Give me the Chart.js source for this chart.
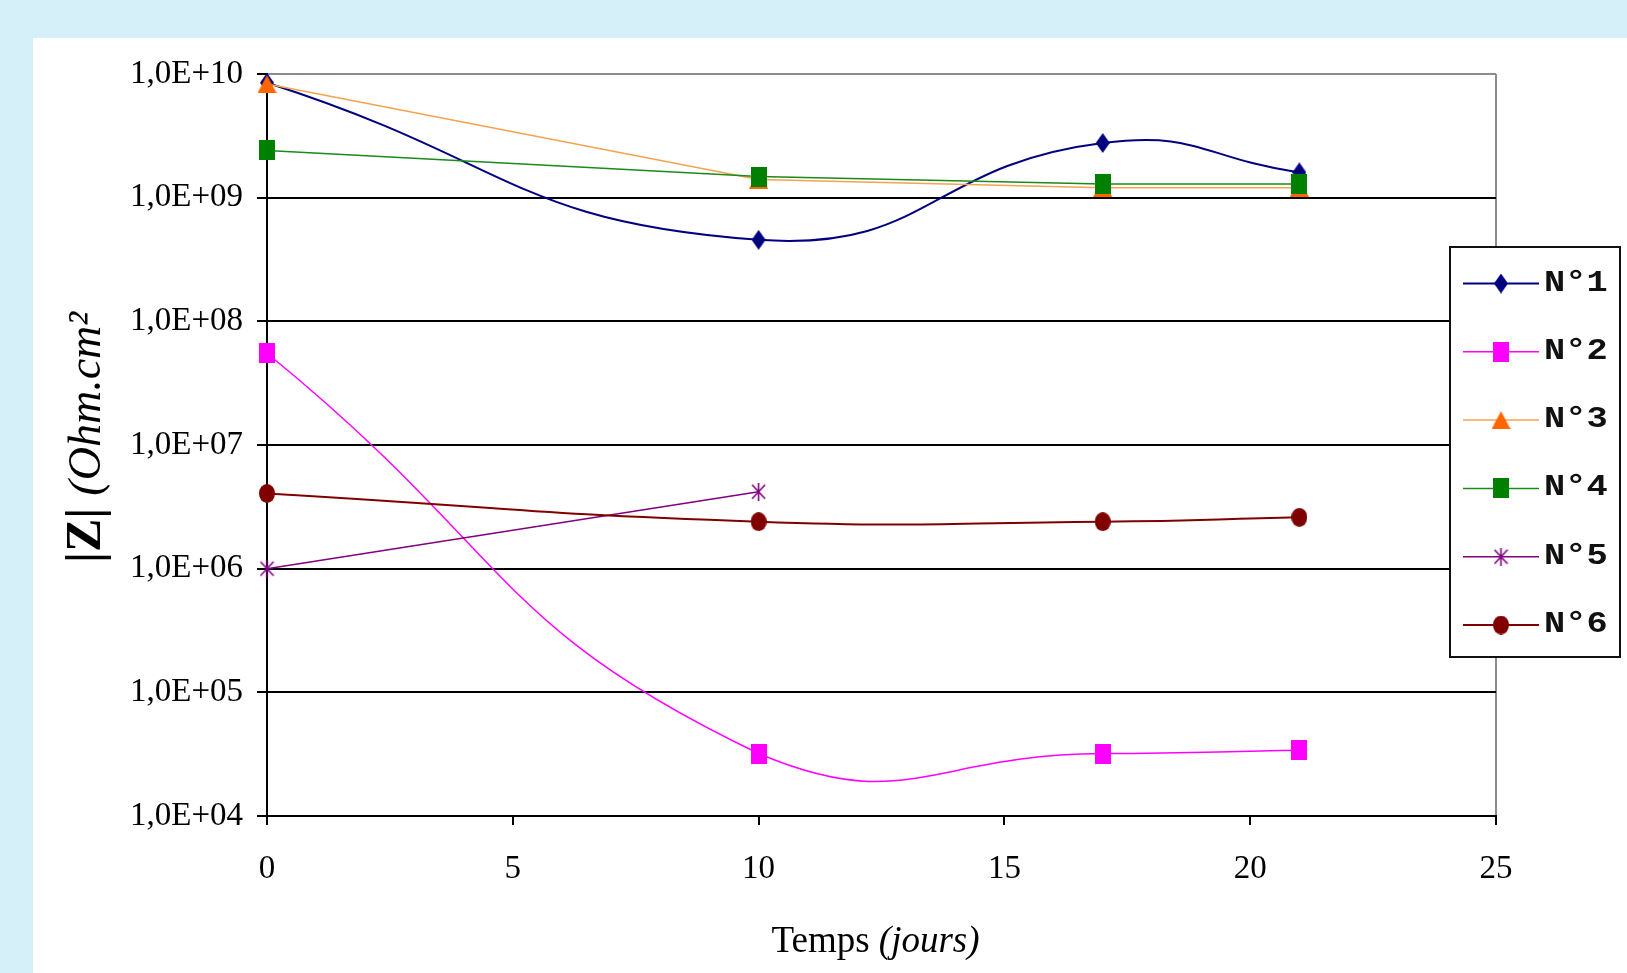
<!DOCTYPE html>
<html>
<head>
<meta charset="utf-8">
<script src="https://cdn.jsdelivr.net/npm/chart.js@4.4.0/dist/chart.umd.min.js"></script>
<style>
  html, body { margin: 0; padding: 0; }
  body { width: 1627px; height: 973px; background: #d6f0f9; position: relative; overflow: hidden; }
  #panel { position: absolute; left: 33px; top: 38px; right: 0; bottom: 0; background: #fff; }
  #chart { position: absolute; left: 0; top: 0; }
</style>
</head>
<body>
<div id="panel"></div>
<canvas id="chart" width="1627" height="973"></canvas>
<script>
// measurement days
const days = [0, 10, 17, 21];
const seriesLabels = ['N°1', 'N°2', 'N°3', 'N°4', 'N°5', 'N°6'];

// |Z| values (Ohm.cm²) per sample
const n1 = [8.5e9, 4.56e8, 2.77e9, 1.6e9];
const n2 = [5.52e7, 3.2e4, 3.2e4, 3.4e4];
const n3 = [8.3e9, 1.4e9, 1.2e9, 1.2e9];
const n4 = [2.41e9, 1.48e9, 1.29e9, 1.29e9];
const n5 = [1.0e6, 4.19e6];
const n6 = [4.06e6, 2.4e6, 2.4e6, 2.6e6];

// axis ticks
const yTicks = [1e4, 1e5, 1e6, 1e7, 1e8, 1e9, 1e10];
const xTicks = [0, 5, 10, 15, 20, 25];

const serif = '"Liberation Serif", "Times New Roman", serif';

// marker images, drawn once and reused for the plot and the legend
function makeMarker(shape, w, h, color) {
  const c = document.createElement('canvas');
  c.width = w;
  c.height = h;
  const g = c.getContext('2d');
  g.fillStyle = color;
  g.strokeStyle = color;
  g.beginPath();
  if (shape === 'diamond') {
    g.moveTo(w / 2, 0); g.lineTo(w, h / 2); g.lineTo(w / 2, h); g.lineTo(0, h / 2);
    g.closePath(); g.fill();
  } else if (shape === 'square') {
    g.fillRect(0, 0, w, h);
  } else if (shape === 'triangle') {
    g.moveTo(w / 2, 0); g.lineTo(w, h); g.lineTo(0, h);
    g.closePath(); g.fill();
  } else if (shape === 'circle') {
    g.ellipse(w / 2, h / 2, w / 2, h / 2, 0, 0, Math.PI * 2);
    g.fill();
  } else if (shape === 'asterisk') {
    g.lineWidth = 1.6;
    g.moveTo(w / 2, 0); g.lineTo(w / 2, h);
    g.moveTo(1, 2); g.lineTo(w - 1, h - 2);
    g.moveTo(w - 1, 2); g.lineTo(1, h - 2);
    g.stroke();
  }
  return c;
}

function toPoints(xs, ys) {
  return ys.map((y, i) => ({ x: xs[i], y: y }));
}

function expLabel(v) {
  const e = Math.round(Math.log10(v));
  return '1,0E+' + String(e).padStart(2, '0');
}

const datasets = [
  { label: seriesLabels[0], data: toPoints(days, n1), borderColor: '#000080', borderWidth: 2,
    pointStyle: makeMarker('diamond', 14, 20, '#000080'), tension: 0.5, order: 6 },
  { label: seriesLabels[1], data: toPoints(days, n2), borderColor: '#ff00ff', borderWidth: 1.5,
    pointStyle: makeMarker('square', 16, 20, '#ff00ff'), tension: 0.5, order: 5 },
  { label: seriesLabels[2], data: toPoints(days, n3), borderColor: '#f5a34e', borderWidth: 1.5,
    pointStyle: makeMarker('triangle', 19, 18, '#ff6600'), tension: 0, order: 4 },
  { label: seriesLabels[3], data: toPoints(days, n4), borderColor: '#1a8a1a', borderWidth: 1.5,
    pointStyle: makeMarker('square', 16, 20, '#008000'), tension: 0, order: 3 },
  { label: seriesLabels[4], data: toPoints(days, n5), borderColor: '#800080', borderWidth: 1.5,
    pointStyle: makeMarker('asterisk', 15, 18, '#800080'), tension: 0, order: 2 },
  { label: seriesLabels[5], data: toPoints(days, n6), borderColor: '#800000', borderWidth: 2,
    pointStyle: makeMarker('circle', 16, 19, '#800000'), tension: 0.5, order: 1 }
];
datasets.forEach(d => { d.pointRadius = 6; d.fill = false; d.clip = false; });

// legend box drawn over the right edge of the plot, like the original
const boxLegend = {
  id: 'boxLegend',
  afterDraw(chart) {
    const ctx = chart.ctx;
    const left = 1450, top = 247, w = 170, h = 410;
    ctx.save();
    ctx.fillStyle = '#fff';
    ctx.fillRect(left, top, w, h);
    ctx.lineWidth = 2;
    ctx.strokeStyle = '#111';
    ctx.strokeRect(left, top, w, h);
    chart.data.datasets.forEach((ds, i) => {
      const y = 283.5 + i * 68.3;
      ctx.beginPath();
      ctx.strokeStyle = ds.borderColor;
      ctx.lineWidth = ds.borderWidth;
      ctx.moveTo(1463, y);
      ctx.lineTo(1539, y);
      ctx.stroke();
      const m = ds.pointStyle;
      ctx.drawImage(m, 1501 - m.width / 2, y - m.height / 2);
      ctx.save();
      ctx.translate(1544, y + 7);
      ctx.scale(1.22, 1);
      ctx.fillStyle = '#111';
      ctx.font = 'bold 29px "Liberation Mono", "Courier New", monospace';
      ctx.textBaseline = 'alphabetic';
      ctx.fillText(ds.label, 0, 0);
      ctx.restore();
    });
    ctx.restore();
  }
};

// axis titles with mixed upright / italic runs
const axisTitles = {
  id: 'axisTitles',
  afterDraw(chart) {
    const ctx = chart.ctx;
    ctx.save();
    ctx.fillStyle = '#000';
    ctx.textBaseline = 'alphabetic';
    // x title
    const a = 'Temps', b = ' (jours)';
    ctx.font = '37px ' + serif;
    const wa = ctx.measureText(a).width;
    ctx.font = 'italic 37px ' + serif;
    const wb = ctx.measureText(b).width;
    const cx = (chart.chartArea.left + chart.chartArea.right) / 2 - 6;
    const x0 = cx - (wa + wb) / 2;
    ctx.font = '37px ' + serif;
    ctx.fillText(a, x0, 952);
    ctx.font = 'italic 37px ' + serif;
    ctx.fillText(b, x0 + wa, 952);
    // y title
    ctx.translate(100, 563);
    ctx.rotate(-Math.PI / 2);
    ctx.font = 'bold 50px ' + serif;
    ctx.fillText('|Z|', 0, 0);
    const wz = ctx.measureText('|Z|').width + 12;
    ctx.font = 'italic 46px ' + serif;
    ctx.fillText('(Ohm.cm²', wz, 0);
    ctx.restore();
  }
};

new Chart(document.getElementById('chart'), {
  type: 'line',
  data: { datasets: datasets },
  plugins: [axisTitles, boxLegend],
  options: {
    responsive: false,
    animation: false,
    devicePixelRatio: 1,
    layout: { padding: { top: 74, right: 131, left: 0, bottom: 0 } },
    plugins: {
      legend: { display: false },
      tooltip: { enabled: false }
    },
    scales: {
      x: {
        type: 'linear',
        min: 0,
        max: 25,
        afterBuildTicks: scale => { scale.ticks = xTicks.map(v => ({ value: v })); },
        afterFit: scale => { scale.height = 157; },
        ticks: {
          color: '#000',
          padding: 25,
          font: { family: serif, size: 33 },
          maxRotation: 0
        },
        grid: {
          color: c => (c.tick && c.tick.value === 25 ? '#8c8c8c' : 'rgba(0,0,0,0)'),
          tickColor: '#000',
          tickLength: 9,
          lineWidth: 2
        },
        border: { color: '#000', width: 2 }
      },
      y: {
        type: 'logarithmic',
        min: 1e4,
        max: 1e10,
        afterBuildTicks: scale => { scale.ticks = yTicks.map(v => ({ value: v })); },
        afterFit: scale => { scale.width = 267; },
        ticks: {
          color: '#000',
          padding: 14,
          font: { family: serif, size: 33 },
          callback: v => expLabel(v)
        },
        grid: {
          color: c => (c.tick && c.tick.value === 1e10 ? '#8c8c8c' : '#000'),
          tickColor: '#000',
          tickLength: 10,
          lineWidth: 2
        },
        border: { color: '#000', width: 2 }
      }
    }
  }
});
</script>
</body>
</html>
